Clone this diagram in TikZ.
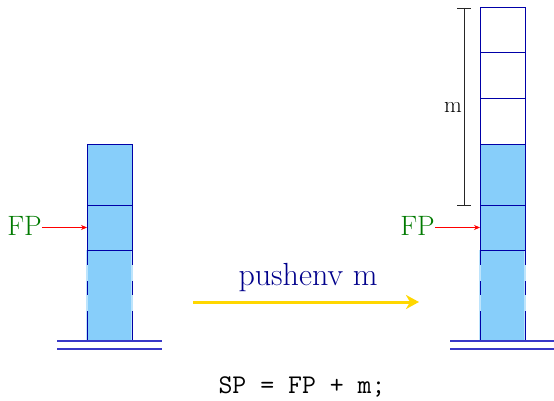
\documentclass[tikz,border=0pt]{standalone}
\usetikzlibrary{arrows.meta}
\definecolor{cellfill}{HTML}{87CEFA}
\definecolor{cellline}{HTML}{0000A8}
\definecolor{groundline}{HTML}{3838C8}
\definecolor{fpgreen}{HTML}{007A00}
\definecolor{labelblue}{HTML}{00008B}
\definecolor{arrowgold}{HTML}{FFD700}
\begin{document}
\begin{tikzpicture}[x=1pt,y=-1pt,
  cell/.style={draw=cellline, line width=1pt, minimum width=45pt, inner sep=0pt, outer sep=0pt},
  full/.style={cell, fill=cellfill},
  empty/.style={cell, fill=white},
  basecell/.style={fill=cellfill, minimum width=46pt, minimum height=91pt, inner sep=0pt, outer sep=0pt},
  sidelight/.style={draw=cellfill!55!white, line width=2pt},
  sidedash/.style={draw=cellline, line width=1pt, dash pattern=on 15pt off 16pt on 14pt off 16pt on 60pt},
  ground/.style={draw=groundline, line width=1.1pt},
  fplabel/.style={text=fpgreen, font=\fontsize{28}{32}\selectfont, inner sep=0pt},
  fparrow/.style={draw=red, line width=0.7pt, -{Stealth[length=6pt,width=5pt]}},
  brace/.style={draw=black!85, line width=0.8pt}
]
\useasboundingbox (0,0) rectangle (554,401);

% ---------- left stack ----------
\node[basecell] (lbase) at (109.5,295.5) {};
\coordinate (lbnw) at (87,250); \coordinate (lbsw) at (87,341);
\coordinate (lbne) at (132,250); \coordinate (lbse) at (132,341);
\draw[sidelight] (lbnw) -- (lbsw);
\draw[sidelight] (lbne) -- (lbse);
\draw[sidedash] (lbnw) -- (lbsw);
\draw[sidedash] (lbne) -- (lbse);
\draw[cellline, line width=1pt] (lbsw) -- (lbse);
\node[full, minimum height=45pt] (l2) at (109.5,227.5) {};
\node[full, minimum height=60pt] (l1) at (109.5,175) {};
\coordinate (lg1a) at (57,341); \coordinate (lg1b) at (162,341);
\coordinate (lg2a) at (57,349); \coordinate (lg2b) at (162,349);
\draw[ground] (lg1a) -- (lg1b);
\draw[ground] (lg2a) -- (lg2b);
\node[fplabel, anchor=east] (fpl) at (42,226) {FP};
\draw[fparrow] (fpl.east |- l2.west) -- (l2.west);

% ---------- right stack ----------
\node[basecell] (rbase) at (502.5,295.5) {};
\coordinate (rbnw) at (480,250); \coordinate (rbsw) at (480,341);
\coordinate (rbne) at (525,250); \coordinate (rbse) at (525,341);
\draw[sidelight] (rbnw) -- (rbsw);
\draw[sidelight] (rbne) -- (rbse);
\draw[sidedash] (rbnw) -- (rbsw);
\draw[sidedash] (rbne) -- (rbse);
\draw[cellline, line width=1pt] (rbsw) -- (rbse);
\node[full, minimum height=45pt] (r5) at (502.5,227.5) {};
\node[full, minimum height=60pt] (r4) at (502.5,175) {};
\node[empty, minimum height=46pt] (r3) at (502.5,122) {};
\node[empty, minimum height=46pt] (r2) at (502.5,76) {};
\node[empty, minimum height=45pt] (r1) at (502.5,30.5) {};
\coordinate (rg1a) at (450,341); \coordinate (rg1b) at (554,341);
\coordinate (rg2a) at (450,349); \coordinate (rg2b) at (554,349);
\draw[ground] (rg1a) -- (rg1b);
\draw[ground] (rg2a) -- (rg2b);
\node[fplabel, anchor=east] (fpr) at (435,226) {FP};
\draw[fparrow] (fpr.east |- r5.west) -- (r5.west);

% bracket m
\coordinate (bt) at (464,8); \coordinate (bb) at (464,205);
\coordinate (btl) at (457,8); \coordinate (btr) at (471,8);
\coordinate (bbl) at (457,205); \coordinate (bbr) at (471,205);
\draw[brace] (bt) -- (bb);
\draw[brace] (btl) -- (btr);
\draw[brace] (bbl) -- (bbr);
\node[anchor=east, inner sep=0pt, font=\fontsize{23}{26}\selectfont] (mlab) at (462,107) {m};

% ---------- transition arrow ----------
\coordinate (as) at (193,302); \coordinate (ae) at (419,302);
\draw[arrowgold, line width=3pt, -{Stealth[length=13pt,width=14pt,inset=4pt]}] (as) -- (ae);
\node[text=labelblue, font=\fontsize{32}{36}\selectfont, inner sep=0pt] (push) at (308,278) {pushenv m};

% ---------- bottom text ----------
\node[font=\ttfamily\fontsize{27}{30}\selectfont, inner sep=0pt] (eq) at (302,387) {SP = FP + m;};
\end{tikzpicture}
\end{document}
